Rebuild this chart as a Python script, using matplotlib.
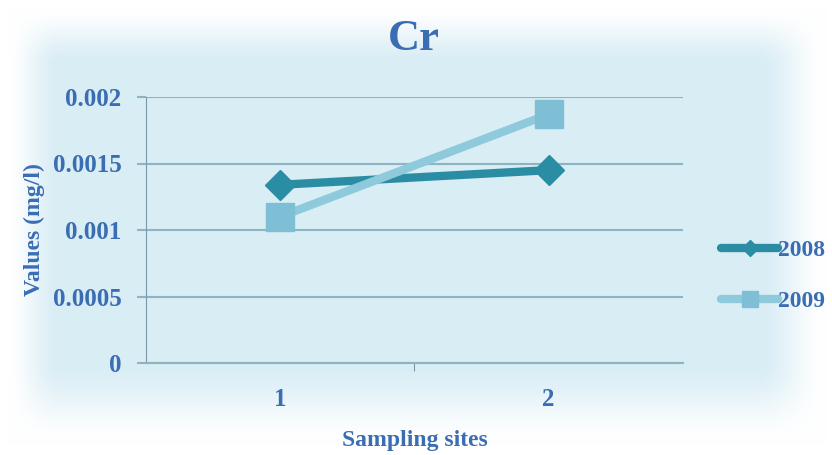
import numpy as np
import matplotlib
matplotlib.use('Agg')
import matplotlib.pyplot as plt

# data
sites = ['1', '2']
years = ['2008', '2009']
cr_2008 = [0.00134, 0.00145]
cr_2009 = [0.00110, 0.00187]
yticks = [0, 0.0005, 0.001, 0.0015, 0.002]
ytick_labels = ['0', '0.0005', '0.001', '0.0015', '0.002']

txt = '#3a6db3'
serif = 'Liberation Serif'

fig = plt.figure(figsize=(8.32, 4.55), dpi=100)

# soft light-blue panel fading to white at the edges
bg = fig.add_axes([0, 0, 1, 1])
ny, nx = 455, 832
yy, xx = np.mgrid[0:ny, 0:nx]
def ramp(d, w):
    t = np.clip(d / w, 0, 1)
    return t * t * (3 - 2 * t)
a = (ramp(xx - 5, 55) * ramp(nx - 5 - xx, 70) *
     ramp(yy - 5, 60) * ramp(ny - 10 - yy, 85))
base = np.array([0.85, 0.93, 0.96])
img = 1 - a[..., None] * (1 - base)
bg.imshow(img, extent=[0, 1, 0, 1], aspect='auto', zorder=0)
bg.axis('off')

ax = fig.add_axes([146/832, 1-363/455, (683-146)/832, (363-97)/455])
ax.patch.set_alpha(0)
x = np.array([0.5, 1.5])
ax.plot(x, cr_2008, color='#2b8da3', lw=6, marker='D', ms=15,
        markeredgecolor='#2b8da3', label=years[0], zorder=3,
        solid_capstyle='round')
ax.plot(x, cr_2009, color='#8ecadb', lw=6, marker='s', ms=20,
        markerfacecolor='#7fbfd6', markeredgecolor='#7fbfd6',
        label=years[1], zorder=3, solid_capstyle='round')

ax.set_xlim(0, 2)
ax.set_ylim(0, 0.002)
ax.set_yticks(yticks)
ax.set_yticklabels(ytick_labels)
ax.set_xticks([1])
ax.set_xticks(x, minor=True)
ax.set_xticklabels([''])
ax.set_xticklabels(sites, minor=True)
ax.tick_params(axis='x', which='minor', length=0, pad=18)
ax.tick_params(axis='x', which='major', length=6, color='#7a98a8')
ax.tick_params(axis='y', length=6.5, color='#8fb3c2', width=1.5, pad=11)
for lab in ax.get_yticklabels() + ax.get_xticklabels(minor=True):
    lab.set_fontfamily(serif)
    lab.set_fontweight('bold')
    lab.set_color(txt)
    lab.set_fontsize(18)
ax.yaxis.grid(True, color='#8fb3c2', lw=1.5)
ax.set_axisbelow(True)
for s in ['top', 'right']:
    ax.spines[s].set_visible(False)
ax.spines['left'].set_color('#7a98a8')
ax.spines['bottom'].set_color('#8fb3c2')
ax.spines['bottom'].set_linewidth(1.5)

ax.set_ylabel('Values (mg/l)', fontfamily=serif, fontweight='bold',
              color=txt, fontsize=17, labelpad=6)
ax.set_xlabel('Sampling sites', fontfamily=serif, fontweight='bold',
              color=txt, fontsize=17, labelpad=14)
fig.text(0.498, 0.915, 'Cr', ha='center', va='center', fontfamily=serif,
         fontweight='bold', color=txt, fontsize=32)

leg = fig.legend(loc='center left', bbox_to_anchor=(700/832, 1-276/455),
                 frameon=False, handlelength=2.4, handletextpad=0.0,
                 labelspacing=1.25, markerscale=0.55,
                 prop={'family': serif, 'weight': 'bold', 'size': 17})
for t in leg.get_texts():
    t.set_color(txt)

fig.savefig('out.png', dpi=100)
